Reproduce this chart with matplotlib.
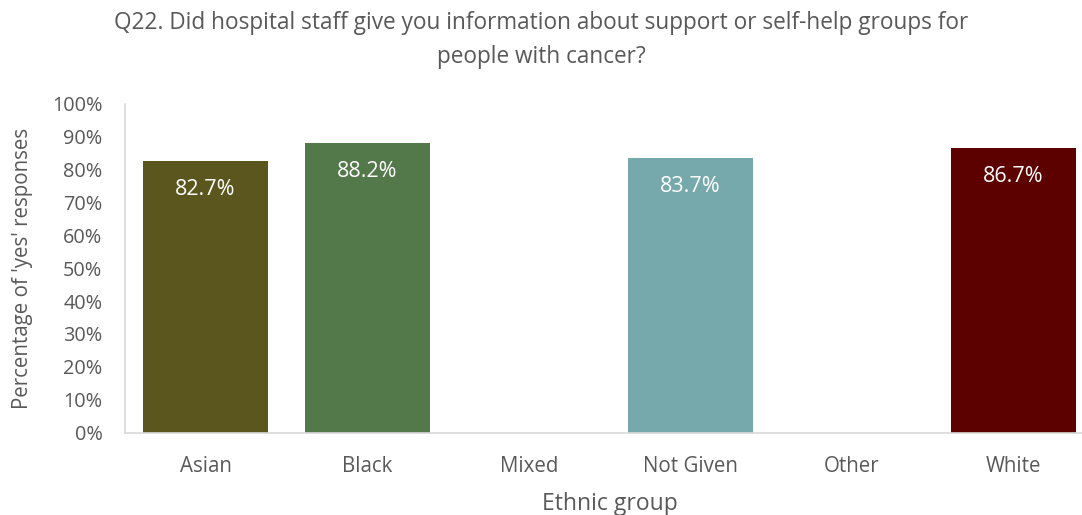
import numpy as np
import matplotlib.pyplot as plt

groups = ['Asian', 'Black', 'Mixed', 'Not Given', 'Other', 'White']
values = [82.7, 88.2, np.nan, 83.7, np.nan, 86.7]
colours = ['#5B561D', '#53784A', '#FFFFFF', '#75A9AB', '#FFFFFF', '#5C0000']

plt.rcParams['font.family'] = ['Open Sans', 'DejaVu Sans']
grey = '#595959'

fig = plt.figure(figsize=(10.82, 5.15), dpi=100)
ax = fig.add_axes([124.7 / 1082, (515 - 432.5) / 515, (1094.3 - 124.7) / 1082, (432.5 - 104) / 515])

x = np.arange(len(groups))
vals = np.array(values) / 100
ax.bar(x, np.nan_to_num(vals), width=0.774, color=colours)

# value labels sit just inside the top of each bar
for xi, v in zip(x, values):
    if not np.isnan(v):
        ax.annotate(f'{v:.1f}%', (xi, v / 100), xytext=(0, -29), textcoords='offset pixels',
                    ha='center', va='center', color='white', fontsize=15.5)

ax.set_xlim(-0.5, len(groups) - 0.5)
ax.set_ylim(0, 1)
ticks = np.arange(0, 1.01, 0.1)
ax.set_yticks(ticks)
ax.set_yticklabels([f'{int(round(t * 100))}%' for t in ticks])
ax.set_xticks(x)
ax.set_xticklabels(groups)
ax.tick_params(length=0, colors=grey)
ax.tick_params(axis='x', pad=17, labelsize=14.8)
ax.tick_params(axis='y', pad=16, labelsize=14.3)

for s in ['top', 'right']:
    ax.spines[s].set_visible(False)
for s in ['left', 'bottom']:
    ax.spines[s].set_color('#D9D9D9')
    ax.spines[s].set_linewidth(1.2)

ax.set_xlabel('Ethnic group', color=grey, fontsize=16.5, labelpad=11)
ax.set_ylabel("Percentage of 'yes' responses", color=grey, fontsize=14.8, labelpad=14)
fig.text(0.5, 1 - 40 / 515, 'Q22. Did hospital staff give you information about support or self-help groups for\npeople with cancer?',
         ha='center', va='center', color=grey, fontsize=16.3, linespacing=1.55)

fig.savefig('out.png', dpi=100)
